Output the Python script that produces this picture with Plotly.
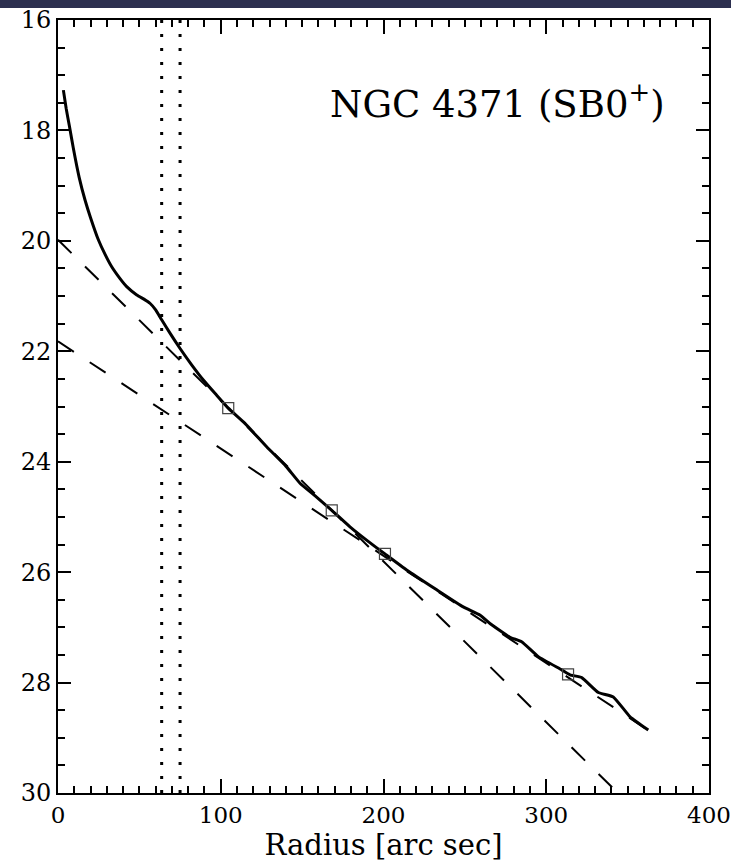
import plotly.graph_objects as go

# Surface brightness profile
radius = [3.3, 5, 7, 9.4, 13, 16.6, 20, 24.8, 29, 33.0, 38, 42.2, 48.4, 53, 56.5, 60,
          63.7, 69, 75.0, 82, 89.3, 97, 104.6, 115, 128.2, 140, 148.7, 158, 168.2, 179.4,
          190, 200.9, 214.2, 232.7, 249.0, 259.4, 265.4, 277.7, 284.9, 295.1, 309.5,
          314.6, 321.8, 332.0, 341.2, 351.5, 362.7]
mu = [17.27, 17.6, 17.92, 18.32, 18.85, 19.26, 19.58, 19.98, 20.25, 20.47, 20.68, 20.83,
      20.98, 21.06, 21.13, 21.25, 21.43, 21.68, 21.95, 22.24, 22.52, 22.78, 23.03, 23.31,
      23.73, 24.08, 24.39, 24.62, 24.88, 25.18, 25.43, 25.67, 25.96, 26.32, 26.63, 26.78,
      26.93, 27.18, 27.26, 27.53, 27.77, 27.86, 27.91, 28.18, 28.26, 28.62, 28.86]

# Marked break radii (squares)
sq_r = [104.6, 168.2, 200.9, 313.4]
sq_mu = [23.03, 24.88, 25.67, 27.85]

# Exponential disk fits (dashed)
inner_r = [0, 344]
inner_mu = [19.98, 30.0]
outer_r = [0, 362]
outer_mu = [21.82, 28.85]

# Vertical dotted markers
vlines = [63.7, 75.0]

x_ticks = [0, 100, 200, 300, 400]
y_ticks = [16, 18, 20, 22, 24, 26, 28, 30]

fig = go.Figure()

for v in vlines:
    fig.add_trace(go.Scatter(x=[v, v], y=[16, 30], mode="lines",
                             line=dict(color="black", width=3, dash="3px,11px"),
                             hoverinfo="skip", showlegend=False))

fig.add_trace(go.Scatter(x=inner_r, y=inner_mu, mode="lines",
                         line=dict(color="black", width=2, dash="19px,19px"),
                         showlegend=False))
fig.add_trace(go.Scatter(x=outer_r, y=outer_mu, mode="lines",
                         line=dict(color="black", width=2, dash="19px,19px"),
                         showlegend=False))
fig.add_trace(go.Scatter(x=radius, y=mu, mode="lines",
                         line=dict(color="black", width=3, shape="spline", smoothing=0.4),
                         showlegend=False))
fig.add_trace(go.Scatter(x=sq_r, y=sq_mu, mode="markers",
                         marker=dict(symbol="square-open", size=11,
                                     color="#444444", line=dict(width=1.2)),
                         showlegend=False))

font_family = "DejaVu Serif"

fig.update_layout(
    width=731, height=867,
    margin=dict(l=58, r=22, t=20, b=74, autoexpand=False),
    paper_bgcolor="white", plot_bgcolor="white",
    font=dict(family=font_family, color="black"),
    xaxis=dict(range=[0, 400], tickvals=x_ticks, ticks="inside", ticklen=14,
               tickwidth=1.5, tickcolor="black", showline=True, linecolor="black",
               linewidth=2, mirror="allticks", showgrid=False, zeroline=False,
               automargin=False, ticklabeloverflow="allow",
               tickfont=dict(size=23, family=font_family),
               minor=dict(dtick=10, ticks="inside", ticklen=7, tickwidth=1.5,
                          tickcolor="black", showgrid=False),
               title=dict(text="Radius [arc sec]", font=dict(size=29, family=font_family),
                          standoff=7)),
    yaxis=dict(range=[30, 16], tickvals=y_ticks, ticks="inside", ticklen=13,
               tickwidth=1.5, tickcolor="black", showline=True, linecolor="black",
               linewidth=2, mirror="allticks", showgrid=False, zeroline=False,
               automargin=False, ticklabeloverflow="allow",
               tickfont=dict(size=24, family=font_family),
               minor=dict(dtick=0.5, ticks="inside", ticklen=7, tickwidth=1.5,
                          tickcolor="black", showgrid=False)),
    annotations=[dict(text="NGC 4371 (SB0<sup>+</sup>)", x=0.675, y=0.895,
                      xref="paper", yref="paper", xanchor="center", yanchor="middle",
                      showarrow=False, font=dict(size=37, family=font_family))],
    shapes=[dict(type="rect", xref="paper", yref="paper", x0=-0.2, x1=1.2,
                 ysizemode="pixel", yanchor=1, y0=12, y1=30,
                 fillcolor="#2c2f4f", line=dict(width=0), layer="above")],
)

fig.write_html("out.html", config={"displayModeBar": False},
               post_script="document.body.style.margin='0';document.body.style.overflow='hidden';")
